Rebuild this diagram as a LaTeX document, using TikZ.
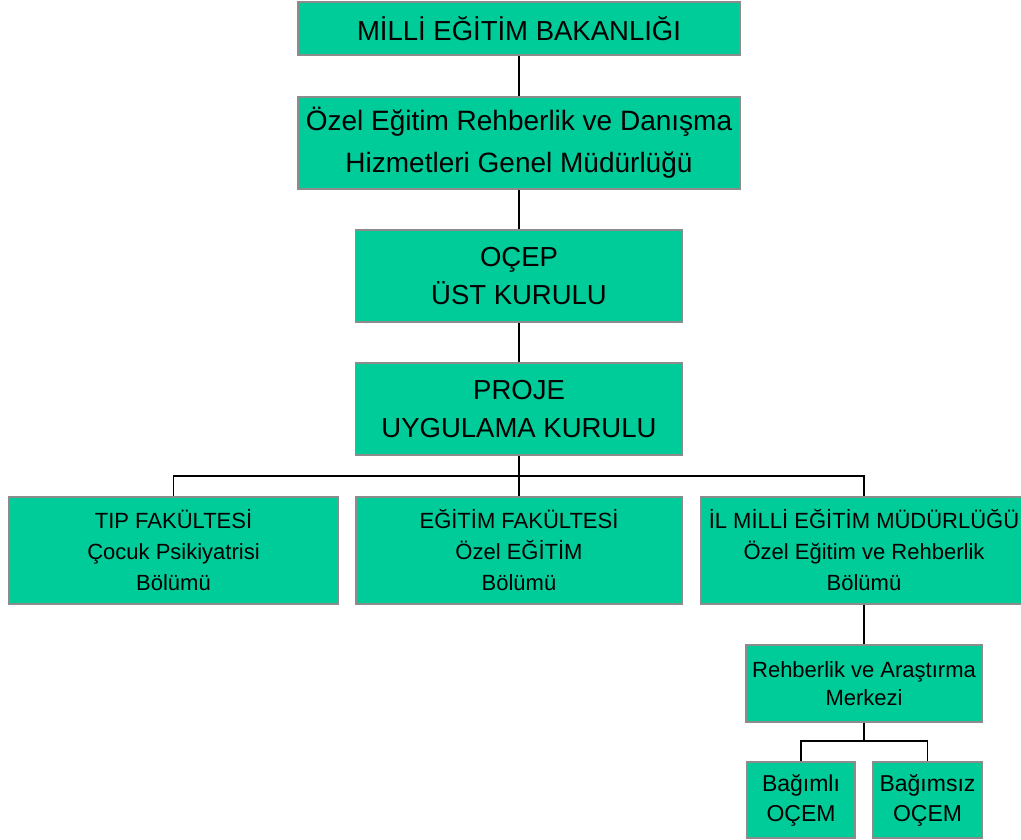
\documentclass[tikz,border=0pt]{standalone}
\usepackage{fontspec}
\setmainfont{Liberation Sans}
\definecolor{boxgreen}{RGB}{0,204,153}
\definecolor{boxedge}{RGB}{140,140,140}
\begin{document}
\begin{tikzpicture}[x=1pt,y=-1pt,
  orgbox/.style={rectangle,draw=boxedge,line width=1.5pt,fill=boxgreen,inner sep=0pt,align=center,anchor=center,font=\fontsize{22}{31}\selectfont},
  link/.style={draw=black,line width=1.6pt}]
\useasboundingbox (0,0) rectangle (1021,840);
\begin{scope}
\clip (0,0) rectangle (1021,840);
\node[orgbox,minimum width=442pt,minimum height=53pt,font=\fontsize{27.5}{32}\selectfont] (meb) at (519,28.5) {MİLLİ EĞİTİM BAKANLIĞI};
\node[orgbox,minimum width=442pt,minimum height=92pt,font=\fontsize{28}{42}\selectfont] (gm) at (519,143) {Özel Eğitim Rehberlik ve Danışma\\Hizmetleri Genel Müdürlüğü};
\node[orgbox,minimum width=327pt,minimum height=92pt,font=\fontsize{27.5}{38}\selectfont] (ust) at (519,276) {OÇEP\\ÜST KURULU};
\node[orgbox,minimum width=327pt,minimum height=92pt,font=\fontsize{27.5}{38}\selectfont] (proje) at (519,409) {PROJE\\UYGULAMA KURULU};
\node[orgbox,minimum width=329pt,minimum height=107pt] (tip) at (173.5,550.5) {TIP FAKÜLTESİ\\Çocuk Psikiyatrisi\\Bölümü};
\node[orgbox,minimum width=326pt,minimum height=107pt] (egt) at (519,550.5) {EĞİTİM FAKÜLTESİ\\Özel EĞİTİM\\Bölümü};
\node[orgbox,minimum width=326pt,minimum height=107pt] (il) at (864,550.5) {İL MİLLİ EĞİTİM MÜDÜRLÜĞÜ\\Özel Eğitim ve Rehberlik\\Bölümü};
\node[orgbox,minimum width=236pt,minimum height=77pt,font=\fontsize{22}{28}\selectfont] (ram) at (864,683.5) {Rehberlik ve Araştırma\\Merkezi};
\node[orgbox,minimum width=108pt,minimum height=76pt,font=\fontsize{23}{30}\selectfont] (bagli) at (801,800) {Bağımlı\\OÇEM};
\node[orgbox,minimum width=109pt,minimum height=76pt,font=\fontsize{23}{30}\selectfont] (bagsiz) at (927.5,800) {Bağımsız\\OÇEM};
\end{scope}
\coordinate (bus) at (519,476);
\coordinate (bus2) at (864,741);
\draw[link] (meb.south) -- (gm.north);
\draw[link] (gm.south) -- (ust.north);
\draw[link] (ust.south) -- (proje.north);
\draw[link] (proje.south) -- (egt.north);
\draw[link] (tip.north) |- (bus) -| (il.north);
\draw[link] (il.south) -- (ram.north);
\draw[link] (ram.south) -- (bus2);
\draw[link] (bagli.north) |- (bus2) -| (bagsiz.north);
\end{tikzpicture}
\end{document}
